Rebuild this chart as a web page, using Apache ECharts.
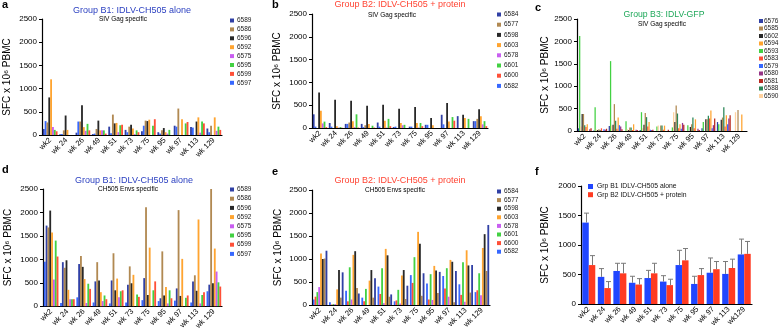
<!DOCTYPE html>
<html><head><meta charset="utf-8">
<script src="https://cdn.jsdelivr.net/npm/echarts@6/dist/echarts.min.js"></script>
<style>html,body{margin:0;padding:0;background:#fff}#c{width:780px;height:332px}</style>
</head><body><div id="c"></div>
<script>
// ---------- categories ----------
const weeks  = ['wk2','wk 24','wk 26','wk 49','wk 51','wk 73','wk 75','wk 95','wk 97','wk 113','wk 129'];
const weeksF = ['wk2','wk 24','wk 26','wk 49','wk 51','wk 73','wk 75','wk 95','wk 97','wk 113','wk129'];

// ---------- panel a: Group B1, SIV Gag ----------
const gagB1_6589 = [130, 15, 50, 20, 180, 110, 80, 60, 200, 170, 140];
const gagB1_6597 = [300, 20, 290, 30, 40, 60, 200, 30, 180, 160, 60];
const gagB1_6586 = [270, 100, 290, 130, 440, 180, 310, 100, 570, 0, 200];
const gagB1_6596 = [810, 420, 640, 310, 250, 220, 300, 150, 0, 290, 0];
const gagB1_6592 = [1200, 110, 170, 100, 260, 140, 330, 60, 340, 380, 380];
const gagB1_6575 = [170, 0, 90, 100, 60, 20, 0, 30, 0, 50, 90];
const gagB1_6595 = [110, 0, 240, 100, 210, 100, 200, 110, 250, 290, 180];
const gagB1_6599 = [80, 0, 100, 30, 220, 60, 340, 0, 280, 250, 110];

// ---------- panel b: Group B2, SIV Gag ----------
const gagB2_6584 = [300, 110, 90, 90, 120, 20, 30, 70, 290, 260, 150];
const gagB2_6582 = [30, 30, 90, 20, 30, 30, 30, 70, 80, 0, 150];
const gagB2_6577 = [0, 0, 120, 60, 0, 0, 0, 0, 0, 0, 200];
const gagB2_6598 = [780, 620, 600, 490, 510, 420, 460, 220, 550, 290, 410];
const gagB2_6603 = [380, 40, 150, 90, 160, 110, 110, 60, 140, 220, 260];
const gagB2_6578 = [100, 10, 20, 0, 10, 60, 10, 0, 0, 0, 80];
const gagB2_6601 = [140, 20, 300, 50, 200, 70, 110, 0, 240, 200, 150];
const gagB2_6600 = [20, 5, 10, 10, 40, 0, 40, 0, 160, 0, 40];

// ---------- panel c: Group B3, SIV Gag ----------
const gagB3_6576 = [60, 10, 110, 0, 20, 0, 0, 0, 60, 200, 0];
const gagB3_6593 = [2120, 530, 1560, 220, 420, 100, 80, 130, 200, 150, 0];
const gagB3_6590 = [100, 30, 120, 40, 60, 120, 420, 0, 0, 0, 420];
const gagB3_6602 = [380, 20, 140, 20, 140, 0, 200, 90, 260, 250, 0];
const gagB3_6585 = [380, 40, 600, 80, 400, 120, 570, 150, 260, 300, 470];
const gagB3_6588 = [130, 20, 230, 80, 310, 120, 390, 300, 340, 530, 0];
const gagB3_6583 = [90, 60, 50, 20, 100, 30, 60, 60, 280, 100, 0];
const gagB3_6594 = [150, 0, 300, 150, 200, 120, 150, 260, 460, 350, 370];
const gagB3_6579 = [0, 40, 130, 0, 30, 0, 50, 0, 60, 150, 0];
const gagB3_6580 = [40, 30, 100, 30, 20, 0, 180, 50, 130, 280, 0];
const gagB3_6581 = [60, 50, 40, 20, 30, 30, 140, 20, 280, 350, 0];

// ---------- panel d: Group B1, CH505 Envs ----------
const envB1_6597 = [950, 70, 190, 80, 60, 80, 130, 110, 120, 80, 320];
const envB1_6589 = [1720, 940, 900, 530, 550, 460, 600, 170, 380, 530, 460];
const envB1_6586 = [1680, 820, 1070, 940, 1130, 850, 2110, 1170, 2050, 660, 2500];
const envB1_6596 = [2040, 980, 840, 550, 340, 490, 240, 230, 220, 330, 490];
const envB1_6592 = [1570, 350, 580, 300, 590, 670, 1250, 410, 1010, 1850, 1230];
const envB1_6575 = [570, 150, 70, 110, 190, 0, 0, 60, 0, 60, 740];
const envB1_6595 = [1400, 150, 480, 230, 320, 250, 340, 340, 180, 240, 510];
const envB1_6599 = [1060, 150, 370, 150, 340, 200, 530, 170, 230, 300, 420];

// ---------- panel e: Group B2, CH505 Envs ----------
const envB2_6582 = [120, 60, 310, 160, 400, 80, 650, 470, 630, 450, 280];
const envB2_6600 = [180, 10, 80, 80, 240, 100, 480, 120, 360, 220, 320];
const envB2_6601 = [280, 20, 820, 350, 800, 330, 1040, 670, 800, 930, 690];
const envB2_6578 = [390, 20, 120, 0, 40, 30, 0, 110, 180, 70, 210];
const envB2_6603 = [1120, 340, 1090, 530, 1220, 640, 1590, 850, 980, 1190, 1240];
const envB2_6598 = [1000, 760, 1170, 760, 1080, 760, 1330, 750, 940, 860, 1540];
const envB2_6577 = [1010, 160, 370, 160, 180, 130, 200, 260, 60, 270, 740];
const envB2_6584 = [1180, 710, 250, 580, 230, 420, 690, 720, 740, 870, 1740];

// ---------- panel f: group means + SEM ----------
const grpB1Mean = [1380, 460, 560, 360, 440, 380, 660, 340, 530, 510, 840];
const grpB1Err  = [160, 140, 130, 110, 130, 100, 250, 130, 250, 210, 260];
const grpB2Mean = [660, 270, 520, 330, 520, 320, 740, 490, 590, 610, 850];
const grpB2Err  = [160, 110, 170, 100, 170, 100, 200, 110, 130, 150, 210];

// ---------- legend orders ----------
const legB1 = ['6589','6586','6596','6592','6575','6595','6599','6597'];
const legB2 = ['6584','6577','6598','6603','6578','6601','6600','6582'];
const legB3 = ['6576','6585','6602','6594','6593','6583','6579','6580','6581','6588','6590'];
const nameF1 = 'Grp B1 IDLV-CH505 alone';
const nameF2 = 'Grp B2 IDLV-CH505 + protein';

// ---------- styling ----------
const FONT = '"Liberation Sans", Arial, Helvetica, sans-serif';
const col = {
  '6589':'#1a2b9b','6586':'#a97c3f','6596':'#111111','6592':'#ff9a1a','6575':'#c34cf0','6595':'#2ecc2e','6599':'#ff3d22','6597':'#2158ff',
  '6584':'#1a2b9b','6577':'#a97c3f','6598':'#111111','6603':'#ff9a1a','6578':'#c34cf0','6601':'#2ecc2e','6600':'#ff3d22','6582':'#2158ff',
  '6576':'#1a2b9b','6585':'#a97c3f','6602':'#111111','6594':'#ff9a1a','6593':'#2ecc2e','6583':'#ff3d22','6579':'#2158ff','6580':'#8b1e7a','6581':'#b01208','6588':'#157a46','6590':'#ffcd95'
};
const colF1 = '#2046ff', colF2 = '#ff3b22';

const panels = [
  {grid:{left:42, top:19, width:180, height:116}, nameGap:30, legend:{left:230, top:17, gap:1.9, pad:-2, names:legB1},
   series:[['6589',gagB1_6589],['6597',gagB1_6597],['6586',gagB1_6586],['6596',gagB1_6596],['6592',gagB1_6592],['6575',gagB1_6575],['6595',gagB1_6595],['6599',gagB1_6599]]},
  {grid:{left:312, top:14, width:176, height:114}, nameGap:30, legend:{left:497, top:11, gap:3.2, pad:-2, names:legB2},
   series:[['6584',gagB2_6584],['6582',gagB2_6582],['6577',gagB2_6577],['6598',gagB2_6598],['6603',gagB2_6603],['6578',gagB2_6578],['6601',gagB2_6601],['6600',gagB2_6600]]},
  {grid:{left:577, top:19, width:170, height:112}, nameGap:25, legend:{left:759, top:17.5, gap:0.5, pad:-4, names:legB3},
   series:[['6576',gagB3_6576],['6593',gagB3_6593],['6590',gagB3_6590],['6602',gagB3_6602],['6585',gagB3_6585],['6588',gagB3_6588],['6583',gagB3_6583],['6594',gagB3_6594],['6579',gagB3_6579],['6580',gagB3_6580],['6581',gagB3_6581]]},
  {grid:{left:43, top:189, width:179, height:118}, nameGap:30, legend:{left:230, top:186, gap:2.2, pad:-2, names:legB1},
   series:[['6597',envB1_6597],['6589',envB1_6589],['6586',envB1_6586],['6596',envB1_6596],['6592',envB1_6592],['6575',envB1_6575],['6595',envB1_6595],['6599',envB1_6599]]},
  {grid:{left:312, top:190, width:178, height:115}, nameGap:29, legend:{left:497, top:188, gap:1.6, pad:-2, names:legB2},
   series:[['6582',envB2_6582],['6600',envB2_6600],['6601',envB2_6601],['6578',envB2_6578],['6603',envB2_6603],['6598',envB2_6598],['6577',envB2_6577],['6584',envB2_6584]]},
  {grid:{left:581, top:186, width:171, height:118}, nameGap:31, max:2000}
];

const grids=[], xAxes=[], yAxes=[], legends=[], series=[];
panels.forEach((p, i) => {
  grids.push(Object.assign({containLabel:false}, p.grid));
  xAxes.push({type:'category', gridIndex:i, data: i===5 ? weeksF : weeks,
    axisLine:{lineStyle:{color:'#000', width:1.2}},
    axisTick:{alignWithLabel:true, length:3, lineStyle:{color:'#000'}},
    axisLabel:{rotate:45, fontSize:7.5, fontFamily:FONT, color:'#000', margin:4, interval:0}});
  yAxes.push({type:'value', gridIndex:i, min:0, max:p.max||2500, interval:500,
    name:'SFC x 10\u2076 PBMC', nameLocation:'middle', nameGap:p.nameGap, nameRotate:90,
    nameTextStyle:{fontSize:10, fontFamily:FONT, color:'#000'},
    axisLine:{show:true, lineStyle:{color:'#000', width:1.2}},
    axisTick:{show:true, length:3, lineStyle:{color:'#000'}},
    axisLabel:{fontSize:8, fontFamily:FONT, color:'#000', margin:5, formatter: v => String(v)},
    splitLine:{show:false}});
  if (p.series) {
    p.series.forEach(([nm, arr]) => {
      series.push({type:'bar', name:nm, xAxisIndex:i, yAxisIndex:i, data:arr,
        itemStyle:{color:col[nm], opacity:0.9}, barGap:'0%', barCategoryGap:'10%', silent:true, animation:false});
    });
    legends.push({orient:'vertical', left:p.legend.left, top:p.legend.top, itemGap:p.legend.gap,
      itemWidth:4, itemHeight:4, icon:'rect', padding:0, data:p.legend.names,
      textStyle:{fontSize:6.5, lineHeight:6.5, fontFamily:FONT, color:'#222', padding:[0,0,0,p.legend.pad]}});
  }
});

// panel f bars
series.push({type:'bar', name:nameF1, xAxisIndex:5, yAxisIndex:5, data:grpB1Mean, barWidth:6.5, barGap:'0%',
  itemStyle:{color:colF1}, silent:true, animation:false});
series.push({type:'bar', name:nameF2, xAxisIndex:5, yAxisIndex:5, data:grpB2Mean, barWidth:6.5, barGap:'0%',
  itemStyle:{color:colF2}, silent:true, animation:false});
function errSeries(means, errs, side){
  return {type:'custom', xAxisIndex:5, yAxisIndex:5, z:5, silent:true, animation:false,
    encode:{x:0, y:1},
    data: means.map((m, k) => [k, m, errs[k]]),
    renderItem: function(params, api){
      const k = api.value(0), m = api.value(1), e = api.value(2);
      const p0 = api.coord([k, m]), p1 = api.coord([k, m + e]);
      const x = Math.round(p0[0] + side * 3.25) + 0.5;
      return {type:'group', children:[
        {type:'line', shape:{x1:x, y1:p0[1], x2:x, y2:p1[1]}, style:{stroke:'#7a7a7a', lineWidth:1}},
        {type:'line', shape:{x1:x-2.5, y1:p1[1], x2:x+2.5, y2:p1[1]}, style:{stroke:'#7a7a7a', lineWidth:1}}
      ]};
    }};
}
series.push(errSeries(grpB1Mean, grpB1Err, -1));
series.push(errSeries(grpB2Mean, grpB2Err, 1));
legends.push({orient:'vertical', left:588, top:183, itemGap:1.2, itemWidth:5, itemHeight:5, icon:'rect', padding:0,
  data:[nameF1, nameF2], textStyle:{fontSize:6.8, lineHeight:6, fontFamily:FONT, color:'#111', padding:[0,0,0,-1]}});

// ---------- text: letters, titles, subtitles ----------
function txt(x, y, s, size, color, weight, align){
  return {type:'text', x:x, y:y, silent:true,
    style:{text:s, fontSize:size, fontFamily:FONT, fill:color, fontWeight:weight||'normal', align:align||'center', verticalAlign:'middle'}};
}
const blueT = '#2a3fc0', redT = '#ff4433', greenT = '#1fa85a';
const graphics = [
  txt(2, 5, 'a', 11, '#000', 'bold', 'left'),
  txt(272, 5, 'b', 11, '#000', 'bold', 'left'),
  txt(535, 8, 'c', 11, '#000', 'bold', 'left'),
  txt(2, 170, 'd', 11, '#000', 'bold', 'left'),
  txt(272, 172, 'e', 11, '#000', 'bold', 'left'),
  txt(535, 172, 'f', 11, '#000', 'bold', 'left'),
  txt(132, 10.5, 'Group B1: IDLV-CH505 alone', 9, blueT),
  txt(123, 19.5, 'SIV Gag specific', 6.5, '#000'),
  txt(400, 5, 'Group B2: IDLV-CH505 + protein', 9, redT),
  txt(392, 15, 'SIV Gag specific', 6.5, '#000'),
  txt(664, 14.5, 'Group B3: IDLV-GFP', 8.7, greenT),
  txt(662, 24, 'SIV Gag specific', 6.5, '#000'),
  txt(134, 180.5, 'Group B1: IDLV-CH505 alone', 9, blueT),
  txt(128, 189.5, 'CH505 Envs specific', 6.5, '#000'),
  txt(400, 181, 'Group B2: IDLV-CH505 + protein', 9, redT),
  txt(395, 190, 'CH505 Envs specific', 6.5, '#000')
];

const chart = echarts.init(document.getElementById('c'), null, {renderer:'canvas'});
chart.setOption({
  animation:false,
  backgroundColor:'#fff',
  grid:grids, xAxis:xAxes, yAxis:yAxes, legend:legends, series:series,
  graphic:graphics
});
</script></body></html>
